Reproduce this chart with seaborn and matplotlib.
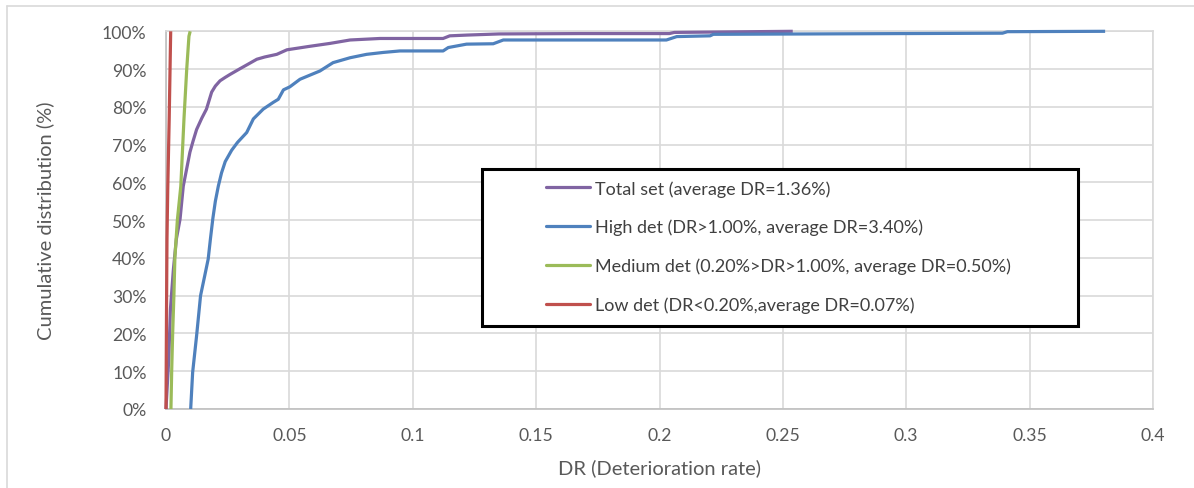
import matplotlib
matplotlib.use("Agg")
import matplotlib.pyplot as plt
import numpy as np
import pandas as pd
import seaborn as sns
from matplotlib.patches import Rectangle
from matplotlib.lines import Line2D

# Cumulative distributions of the deterioration rate (DR) per group
total_dr = [0.0, 0.0005, 0.0011, 0.0018, 0.0030, 0.0042, 0.0057, 0.0070, 0.0085, 0.0097,
            0.0110, 0.0124, 0.0145, 0.0164, 0.0185, 0.0200, 0.0219, 0.0240, 0.0260, 0.0300,
            0.0330, 0.0368, 0.0400, 0.0449, 0.0490, 0.0540, 0.0580, 0.0665, 0.0746, 0.0867,
            0.1000, 0.1123, 0.1150, 0.1220, 0.1350, 0.1680, 0.2040, 0.2060, 0.2540]
total_cum = [0.0, 6.0, 13.0, 26.5, 37.0, 45.0, 50.3, 59.0, 64.0, 68.0,
             71.0, 74.0, 77.0, 79.4, 83.9, 85.5, 86.9, 87.8, 88.6, 90.1,
             91.2, 92.6, 93.2, 93.9, 95.1, 95.6, 96.0, 96.8, 97.7, 98.1,
             98.1, 98.1, 98.8, 99.0, 99.3, 99.4, 99.4, 99.7, 100.0]

high_dr = [0.0100, 0.0108, 0.0124, 0.0140, 0.0157, 0.0171, 0.0180, 0.0190, 0.0200, 0.0212,
           0.0225, 0.0240, 0.0266, 0.0290, 0.0327, 0.0354, 0.0394, 0.0435, 0.0455, 0.0476,
           0.0502, 0.0543, 0.0624, 0.0677, 0.0746, 0.0813, 0.0880, 0.0948, 0.1123, 0.1144,
           0.1218, 0.1326, 0.1367, 0.2028, 0.2070, 0.2205, 0.2218, 0.3390, 0.3410, 0.3806]
high_cum = [0.0, 9.7, 19.4, 30.0, 35.3, 39.7, 45.0, 50.5, 55.0, 59.0,
            62.5, 65.5, 68.5, 70.6, 73.2, 76.8, 79.4, 81.2, 82.0, 84.5,
            85.3, 87.3, 89.5, 91.7, 93.0, 93.9, 94.4, 94.8, 94.8, 95.7,
            96.6, 96.7, 97.7, 97.7, 98.6, 98.8, 99.2, 99.5, 99.9, 100.0]

medium_dr = [0.0020, 0.0023, 0.0027, 0.0032, 0.0036, 0.0046, 0.0060, 0.0073, 0.0084, 0.0093, 0.0098]
medium_cum = [0.0, 10.0, 20.0, 30.0, 40.0, 50.0, 59.0, 77.0, 90.0, 98.7, 100.0]

low_dr = [0.0, 0.0002, 0.0004, 0.0007, 0.0013, 0.0019]
low_cum = [0.0, 25.0, 45.0, 58.0, 77.0, 100.0]

series_names = ["Total set (average DR=1.36%)",
                "High det (DR>1.00%, average DR=3.40%)",
                "Medium det (0.20%>DR>1.00%, average DR=0.50%)",
                "Low det (DR<0.20%,average DR=0.07%)"]
series_colors = ["#8064A2", "#4F81BD", "#9BBB59", "#C0504D"]

x_ticks = [0, 0.05, 0.1, 0.15, 0.2, 0.25, 0.3, 0.35, 0.4]
x_tick_labels = ["0", "0.05", "0.1", "0.15", "0.2", "0.25", "0.3", "0.35", "0.4"]
y_ticks = [0, 10, 20, 30, 40, 50, 60, 70, 80, 90, 100]
y_tick_labels = [f"{v}%" for v in y_ticks]

frames = []
for name, xs, ys in zip(series_names,
                        [total_dr, high_dr, medium_dr, low_dr],
                        [total_cum, high_cum, medium_cum, low_cum]):
    frames.append(pd.DataFrame({"DR": xs, "cum": ys, "series": name}))
df = pd.concat(frames, ignore_index=True)

sns.set_theme(style="white")
plt.rcParams["font.family"] = ["Lato", "DejaVu Sans"]

W, H = 1194, 489
fig = plt.figure(figsize=(W / 100, H / 100), dpi=100)
fig.patch.set_facecolor("white")

# plot area in pixel coordinates
left, right, top, bottom = 166, 1153, 32.3, 410
ax = fig.add_axes([left / W, 1 - bottom / H, (right - left) / W, (bottom - top) / H])

sns.lineplot(data=df, x="DR", y="cum", hue="series", hue_order=series_names,
             palette=series_colors, sort=False, estimator=None, linewidth=2.3,
             ax=ax, legend=False)
for ln in ax.get_lines():
    ln.set_clip_on(False)
    ln.set_zorder(3)
    ln.set_solid_capstyle("butt")

ax.set_xlim(0, 0.4)
ax.set_ylim(0, 100)
ax.set_xticks(x_ticks)
ax.set_xticklabels(x_tick_labels)
ax.set_yticks(y_ticks)
ax.set_yticklabels(y_tick_labels)
ax.grid(True, color="#D9D9D9", linewidth=1.2)
ax.set_axisbelow(True)
for side, sp in ax.spines.items():
    sp.set_color("#D9D9D9")
    sp.set_linewidth(1.2)
    sp.set_zorder(1)
ax.spines["left"].set_color("#BFBFBF")
ax.spines["bottom"].set_color("#BFBFBF")
ax.tick_params(axis="both", length=0, colors="#595959", labelsize=12.7)
ax.tick_params(axis="y", pad=14)
ax.tick_params(axis="x", pad=13)
ax.set_xlabel("")
ax.set_ylabel("")

fig.text((left + right) / 2 / W, 1 - 468 / H, "DR (Deterioration rate)",
         ha="center", va="center", color="#595959", fontsize=14.5)
fig.text(45 / W, 1 - (top + bottom) / 2 / H, "Cumulative distribution (%)",
         ha="center", va="center", rotation=90, color="#595959", fontsize=14.5)

# legend box
box = Rectangle((482 / W, 1 - 327 / H), (1078 - 482) / W, (327 - 170) / H,
                transform=fig.transFigure, facecolor="white", edgecolor="black",
                linewidth=2.2, zorder=5)
fig.patches.append(box)

handles = [Line2D([], [], color=c, linewidth=2.3) for c in series_colors]
leg = fig.legend(handles, series_names, loc="center left",
                 bbox_to_anchor=(546 / W, 1 - 247.5 / H), frameon=False,
                 fontsize=13, handlelength=2.44, handletextpad=0.28,
                 labelspacing=1.23, borderpad=0, borderaxespad=0)
leg.set_zorder(6)
for t in leg.get_texts():
    t.set_color("#404040")

# outer chart border
fig.add_artist(Line2D([7 / W, 7 / W], [0, 1 - 7 / H], transform=fig.transFigure,
                      color="#D9D9D9", linewidth=1.2))
fig.add_artist(Line2D([7 / W, 1], [1 - 7 / H, 1 - 7 / H], transform=fig.transFigure,
                      color="#D9D9D9", linewidth=1.2))

fig.savefig("out.png", dpi=100, facecolor="white")
